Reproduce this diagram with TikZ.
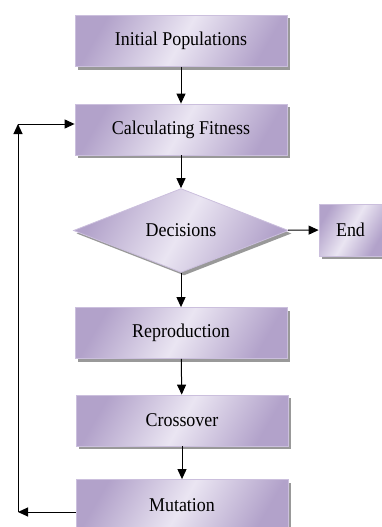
\documentclass[tikz,border=0pt]{standalone}
\usepackage{fontspec}
\setmainfont{Liberation Serif}
\newfontfamily\boxfont[FakeStretch=0.92]{Liberation Serif}
\usepackage{tikz}
\usetikzlibrary{shapes,shadows,arrows.meta,positioning}
\definecolor{lilacdark}{HTML}{B2A2CA}
\definecolor{lilaclight}{HTML}{EAE5F2}
\definecolor{lilacedge}{HTML}{CBBFDD}

\begin{document}
\begin{tikzpicture}[x=1pt,y=-1pt,->,>={Triangle[length=10pt,width=9pt]},
  line width=1pt]
  \tikzstyle{every node}=[font=\boxfont\fontsize{19.5}{21}\selectfont]
  \tikzstyle{stage}=[draw=lilacedge,line width=0.8pt,
    left color=lilacdark,right color=lilacdark,middle color=lilaclight,
    shading angle=60,
    drop shadow={shadow xshift=3pt,shadow yshift=-3pt,fill=black!40,opacity=1}]
  \tikzstyle{block}=[stage,rectangle,minimum width=212pt,minimum height=51pt]
  \tikzstyle{choice}=[stage,diamond,inner sep=0pt,minimum width=215pt,
    minimum height=83pt]

  \useasboundingbox (0,0) rectangle (382,527);

  \node[block]  (IP) at (181,41)    {Initial Populations};
  \node[block]  (CF) at (181,129.5) {Calculating Fitness};
  \node[choice] (DS) at (181,230.5) {Decisions};
  \node[block,minimum width=63pt,minimum height=52pt] (EN) at (350.5,230) {End};
  \node[block]  (RP) at (181,333)   {Reproduction};
  \node[block]  (CO) at (182,420.5) {Crossover};
  \node[block]  (MU) at (182,505)   {Mutation};

  \coordinate (L1) at (18,512);
  \coordinate (L2) at (18,124);

  \path
  (IP) edge (CF)
  (CF) edge (DS)
  (DS) edge (EN)
  (DS) edge (RP)
  (RP) edge (CO)
  (CO) edge (MU)
  (MU.west |- L1) edge (L1)
  (L1) edge (L2)
  (L2) edge (CF.west |- L2)
  ;
\end{tikzpicture}
\end{document}
